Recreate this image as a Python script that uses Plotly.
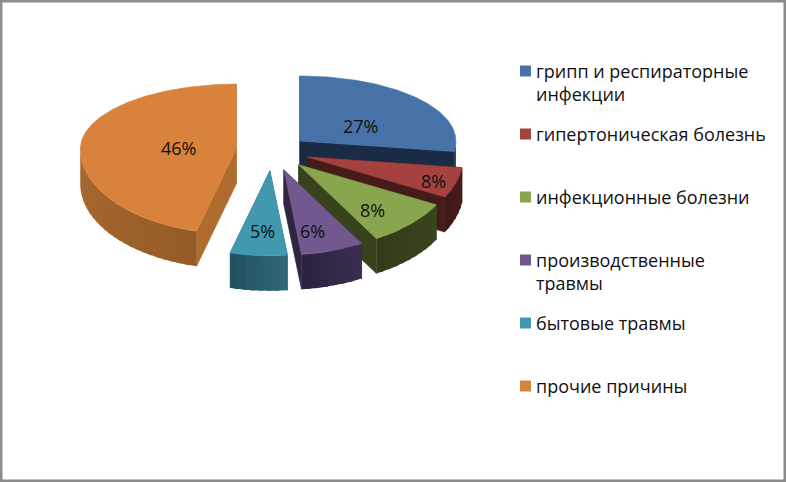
import math
import plotly.graph_objects as go

categories = ["грипп и респираторные<br>инфекции", "гипертоническая болезнь", "инфекционные болезни",
              "производственные<br>травмы", "бытовые травмы", "прочие причины"]
percent_labels = [27, 8, 8, 6, 5, 46]
drawn_share = [27.0, 5.8, 8.9, 6.5, 5.9, 45.9]

top_colors = ["#4672a8", "#a54240", "#89a54e", "#71588f", "#4198af", "#d8823c"]
cut_colors = ["#1a2c45", "#451c1a", "#38431e", "#2f2542", "#2a6070", "#ae6c2f"]
rim_near = ["#1a2c45", "#481c1a", "#3a451f", "#3c2e50", "#2f6a7a", "#c27d3e"]
rim_far = ["#1a2c45", "#3f1a18", "#323c1a", "#2a2240", "#1f4f5c", "#955b26"]
label_xy = [(360, 126), (433, 181), (372, 210), (312, 231), (262, 231), (178, 148)]

CX, CY, RX, RY_UP, RY_DOWN, DEPTH, EXPLODE = 272.5, 151, 156, 65, 85, 35, 0.234
LEGEND_X, LEGEND_Y0, LEGEND_STEP = 525.5, 71, 63
FONT = "Open Sans"


def hexmix(a, b, t):
    ca = [int(a[i:i + 2], 16) for i in (1, 3, 5)]
    cb = [int(b[i:i + 2], 16) for i in (1, 3, 5)]
    return "#%02x%02x%02x" % tuple(round(p + (q - p) * t) for p, q in zip(ca, cb))


def vmap(v):
    return v * (RY_UP if v > 0 else RY_DOWN)


def rim_point(ax, ay, deg):
    t = math.radians(deg)
    return ax + RX * math.sin(t), ay - vmap(math.cos(t))


fig = go.Figure()


def poly(xs, ys, color, width=0.6):
    fig.add_trace(go.Scatter(x=xs, y=ys, mode="lines", fill="toself", fillcolor=color,
                             line=dict(color=color, width=width), hoverinfo="skip", showlegend=False))


total = sum(drawn_share)
start = 0.0
for i, share in enumerate(drawn_share):
    a0 = start
    a1 = start + share / total * 360
    start = a1
    mid = math.radians((a0 + a1) / 2)
    ax = CX + EXPLODE * RX * math.sin(mid)
    ay = CY - vmap(EXPLODE * math.cos(mid))
    # cut faces
    for a in (a0, a1):
        px, py = rim_point(ax, ay, a)
        poly([ax, px, px, ax, ax], [ay, py, py + DEPTH, ay + DEPTH, ay], cut_colors[i])
    # rim wall: strips painted so each one overlaps its neighbour
    n = max(2, int((a1 - a0) / 3))
    for k in range(n):
        b0 = a0 + (a1 - a0) * k / n
        b1 = min(a1, a0 + (a1 - a0) * (k + 1) / n + 1.5)
        mb = a0 + (a1 - a0) * (k + 0.5) / n
        if 90 < mb < 270:
            p0 = rim_point(ax, ay, b0)
            p1 = rim_point(ax, ay, b1)
            t = (k + 0.5) / n
            if a0 >= 180:
                col = hexmix(rim_far[i], rim_near[i], t)
            else:
                col = hexmix(rim_near[i], rim_far[i], t)
            poly([p0[0], p1[0], p1[0], p0[0], p0[0]],
                 [p0[1], p1[1], p1[1] + DEPTH, p0[1] + DEPTH, p0[1]], col, width=0)
    # top face
    m = max(8, int(a1 - a0))
    pts = [rim_point(ax, ay, a0 + (a1 - a0) * k / m) for k in range(m + 1)]
    poly([ax] + [p[0] for p in pts] + [ax], [ay] + [p[1] for p in pts] + [ay], top_colors[i])

annotations = []
for v, (lx, ly) in zip(percent_labels, label_xy):
    annotations.append(dict(x=lx, y=ly, text=f"{v}%", showarrow=False, xref="x", yref="y",
                            font=dict(family=FONT, size=18, color="#111111")))

legend_y = [LEGEND_Y0 + LEGEND_STEP * i for i in range(len(categories))]
fig.add_trace(go.Scatter(x=[LEGEND_X] * len(categories), y=legend_y, mode="markers",
                         marker=dict(symbol="square", size=11, color=top_colors, line=dict(width=0)),
                         hoverinfo="skip", showlegend=False))
for name, y in zip(categories, legend_y):
    annotations.append(dict(x=534, y=y - 14, text=name, showarrow=False, xref="x", yref="y",
                            xanchor="left", yanchor="top", align="left",
                            font=dict(family=FONT, size=18, color="#111111")))

fig.update_layout(
    width=786, height=482, margin=dict(l=0, r=0, t=0, b=0),
    paper_bgcolor="white", plot_bgcolor="white", showlegend=False,
    xaxis=dict(range=[0, 786], visible=False, fixedrange=True),
    yaxis=dict(range=[482, 0], visible=False, fixedrange=True),
    annotations=annotations,
    shapes=[dict(type="rect", xref="paper", yref="paper", x0=0, y0=0, x1=1, y1=1,
                 line=dict(color="#8c8c8c", width=5))],
)
fig.write_html("out.html", config={"displayModeBar": False},
               post_script="document.body.style.margin='0';document.body.style.overflow='hidden';")
